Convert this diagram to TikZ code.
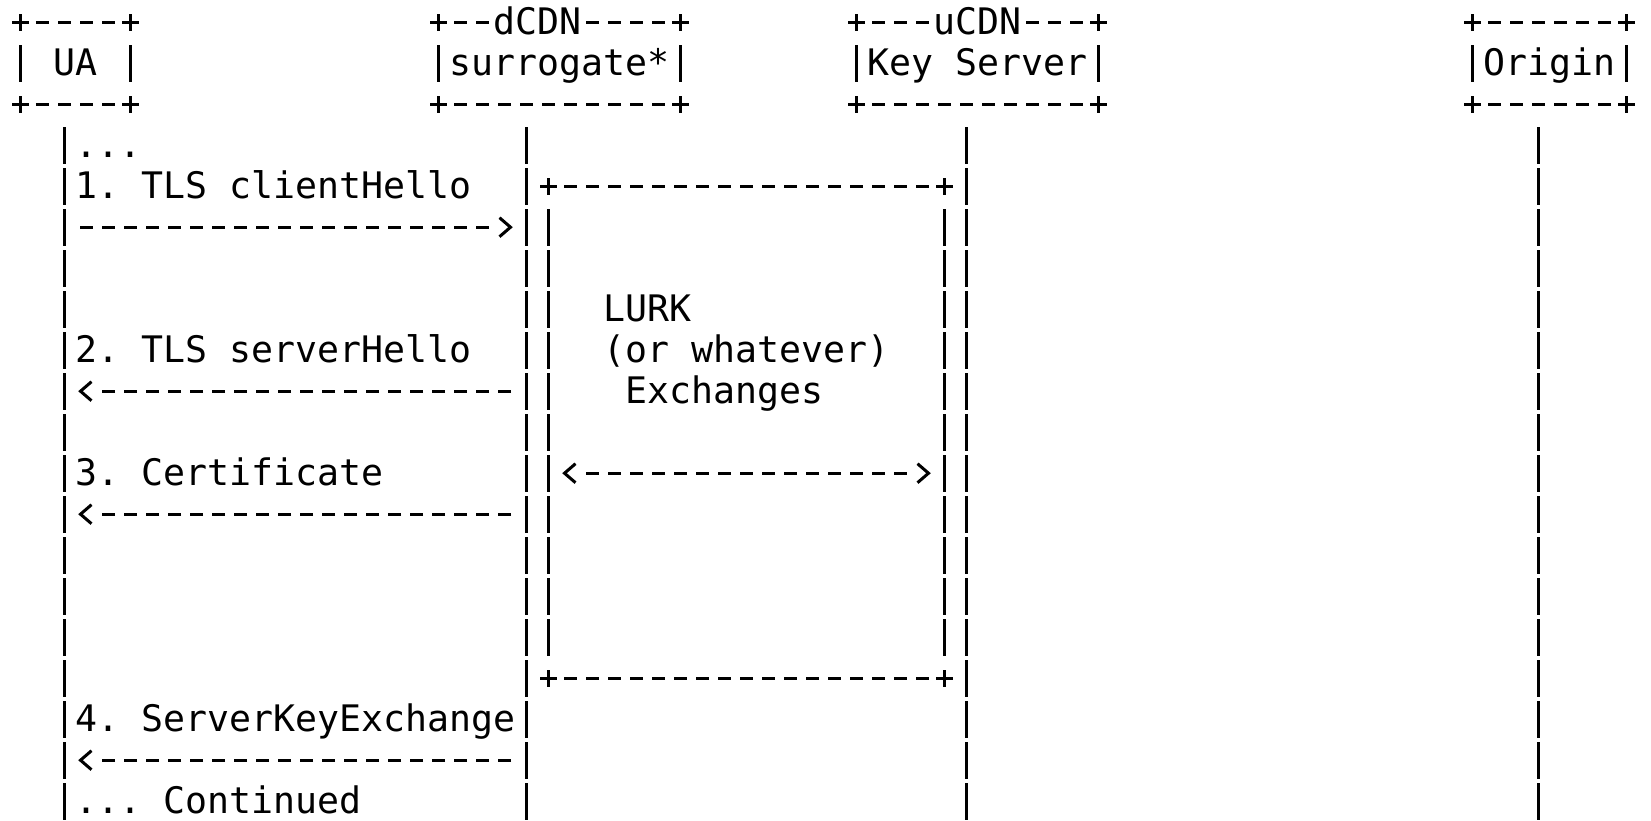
\documentclass[tikz,border=0pt]{standalone}
\usepackage{fontspec}
\setmonofont{DejaVu Sans Mono}
\usepackage{tikz}
\usetikzlibrary{calc}
\usetikzlibrary{positioning}
\tikzset{x=22pt, y=-41pt}
\tikzstyle{glyph}=	[line width=3pt]
\tikzstyle{hbar}=	[glyph, dash pattern=on 13pt off 9pt]
\tikzstyle{vbar}=	[glyph, dash pattern=on 36.4pt off 4.6pt]
\tikzstyle{txt}=	[anchor=base west, inner sep=0pt, xshift=-11pt]
\tikzstyle{tag}=	[txt, fill=white]
\tikzstyle{msg}=	[hbar, shorten <=15.5pt, shorten >=30pt]
\tikzset{
	rtip/.pic={\draw[glyph, line join=miter] (-11pt,9.5pt) -- (0,0) -- (-11pt,-9.5pt);},
	ltip/.pic={\draw[glyph, line join=miter] (11pt,9.5pt) -- (0,0) -- (11pt,-9.5pt);},
	cross/.pic={\draw[glyph] (-8.3pt,0) -- (8.3pt,0) (0,-8.5pt) -- (0,8.5pt);}
}
\begin{document}
\begin{tikzpicture}[font=\fontsize{36.54pt}{41pt}\selectfont\ttfamily\frenchspacing]
	\useasboundingbox (-20.5pt,34.2pt) rectangle (1630.5pt,-786.8pt);

	%%% boxes
	% corners, edges and sides
	\foreach \cx/\ry in {0/0,5/0,0/2,5/2, 19/0,30/0,19/2,30/2, 38/0,49/0,38/2,49/2, 66/0,73/0,66/2,73/2, 24/4,42/4,24/16,42/16}
		\pic at ($(\cx,\ry)+(0,12pt)$) {cross};
	\foreach \ca/\cb/\ry in {0/5/0, 0/5/2, 19/30/0, 19/30/2, 38/49/0, 38/49/2, 66/73/0, 66/73/2, 24/42/4, 24/42/16}
		\draw[hbar, shorten <=15.5pt, shorten >=15.5pt] ($(\ca,\ry)+(0,12pt)$) -- ($(\cb,\ry)+(0,12pt)$);
	\foreach \cx in {0,5,19,30,38,49,66,73}
		\draw[vbar] ($(\cx,1)+(0,30pt)$) -- ($(\cx,1)+(0,-6.4pt)$);

	% names
	\node[txt] (ua) at (2,1) {UA};
	\node[txt] (sur) at (20,1) {surrogate*};
	\node[txt] (key) at (39,1) {Key Server};
	\node[txt] (orig) at (67,1) {Origin};
	\node[tag] (dcdn) at (22,0) {dCDN};
	\node[tag] (ucdn) at (42,0) {uCDN};

	%%% lifelines
	\coordinate (ua-l) at ($(2,3)+(0,30pt)$);
	\coordinate (sur-l) at ($(23,3)+(0,30pt)$);
	\coordinate (key-l) at ($(43,3)+(0,30pt)$);
	\coordinate (orig-l) at ($(69,3)+(0,30pt)$);
	\coordinate (bottom) at ($(0,19)+(0,-6.4pt)$);
	\draw[vbar] (ua-l) -- (ua-l |- bottom);
	\draw[vbar] (sur-l) -- (sur-l |- bottom);
	\draw[vbar] (key-l) -- (key-l |- bottom);
	\draw[vbar] (orig-l) -- (orig-l |- bottom);

	%%% lurk exchanges
	\coordinate (lurk-w) at ($(24,5)+(0,30pt)$);
	\coordinate (lurk-e) at ($(42,5)+(0,30pt)$);
	\coordinate (lurk-s) at ($(0,15)+(0,-6.4pt)$);
	\draw[vbar] (lurk-w) -- (lurk-w |- lurk-s);
	\draw[vbar] (lurk-e) -- (lurk-e |- lurk-s);
	\node[txt] (lurk) at (27,7) {LURK};
	\node[txt] (lurk2) at (27,8) {(or whatever)};
	\node[txt] (lurk3) at (28,9) {Exchanges};
	\coordinate (a5) at ($(0,11)+(0,12pt)$);
	\draw[msg, shorten <=37.5pt] (lurk-w |- a5) -- (lurk-e |- a5);
	\pic at ($(lurk-w |- a5)+(16pt,0)$) {ltip};
	\pic at ($(lurk-e |- a5)+(-16pt,0)$) {rtip};

	%%% tls messages
	\node[txt] (dots) at (3,3) {...};

	% clientHello
	\node[txt] (m1) at (3,4) {1. TLS clientHello};
	\coordinate (a1) at ($(0,5)+(0,12pt)$);
	\draw[msg] (ua-l |- a1) -- (sur-l |- a1);
	\pic at ($(sur-l |- a1)+(-16pt,0)$) {rtip};

	% serverHello
	\node[txt] (m2) at (3,8) {2. TLS serverHello};
	\coordinate (a2) at ($(0,9)+(0,12pt)$);
	\draw[msg] (sur-l |- a2) -- (ua-l |- a2);
	\pic at ($(ua-l |- a2)+(16pt,0)$) {ltip};

	% certificate
	\node[txt] (m3) at (3,11) {3. Certificate};
	\coordinate (a3) at ($(0,12)+(0,12pt)$);
	\draw[msg] (sur-l |- a3) -- (ua-l |- a3);
	\pic at ($(ua-l |- a3)+(16pt,0)$) {ltip};

	% serverKeyExchange
	\node[txt] (m4) at (3,17) {4. ServerKeyExchange};
	\coordinate (a4) at ($(0,18)+(0,12pt)$);
	\draw[msg] (sur-l |- a4) -- (ua-l |- a4);
	\pic at ($(ua-l |- a4)+(16pt,0)$) {ltip};

	\node[txt] (cont) at (3,19) {... Continued};

\end{tikzpicture}
\end{document}
